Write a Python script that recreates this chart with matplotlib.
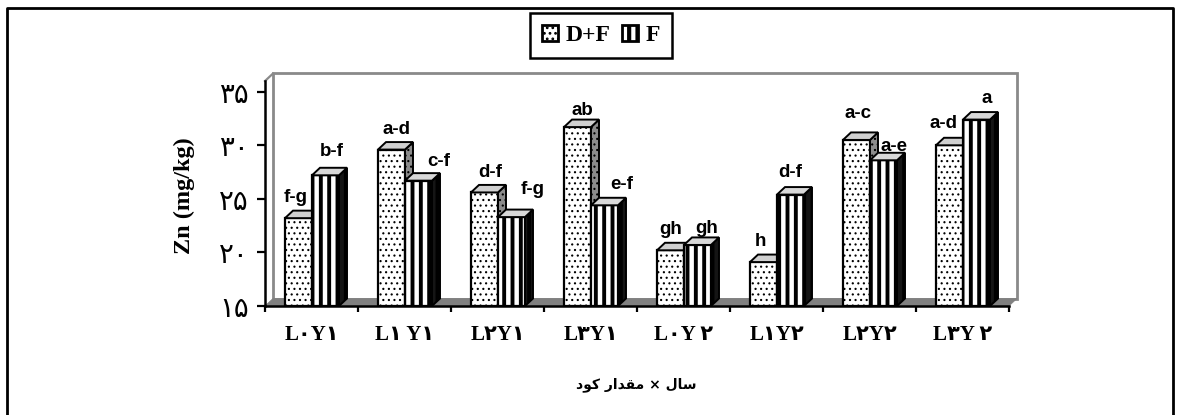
import matplotlib.pyplot as plt
import numpy as np
from matplotlib.patches import Polygon

categories = ['L۰Y۱', 'L۱ Y۱', 'L۲Y۱', 'L۳Y۱', 'L۰Y ۲', 'L۱Y۲', 'L۲Y۲', 'L۳Y ۲']
df_values = [23.2, 29.6, 25.6, 31.7, 20.2, 19.1, 30.5, 30.0]
f_values = [27.2, 26.7, 23.3, 24.4, 20.7, 25.4, 28.6, 32.4]
df_letters = ['f-g', 'a-d', 'd-f', 'ab', 'gh', 'h', 'a-c', 'a-d']
f_letters = ['b-f', 'c-f', 'f-g', 'e-f', 'gh', 'd-f', 'a-e', 'a']
y_ticks = [15, 20, 25, 30, 35]
y_labels = ['۱۵', '۲۰', '۲۵', '۳۰', '۳۵']

# label nudges in pixels from the top of each bar
df_nudge = [(-3, 21), (5, 20), (6, 20), (5, 17), (0, 21), (-3, 21), (2, 26), (-6, 22)]
f_nudge = [(6, 24), (20, 19), (21, 28), (17, 21), (9, 16), (0, 22), (11, 14), (10, 21)]

W, H = 1179, 415
fig = plt.figure(figsize=(W / 100, H / 100), dpi=100)
ax = fig.add_axes([265 / W, 1 - 306 / H, 744 / W, 225 / H])

bar_w = 27 / 93
gap = 20 / 93
dx = 8 / 93
dy = 0.7
x = np.arange(8)

# back wall and floor
ax.add_patch(Polygon([(dx, 15 + dy), (dx, 36 + dy), (8 + dx, 36 + dy), (8 + dx, 15 + dy)],
                     closed=True, fc='white', ec='#8a8a8a', lw=2, zorder=1, clip_on=False))
ax.plot([0, dx], [36, 36 + dy], color='#8a8a8a', lw=1.6, zorder=1, clip_on=False)
ax.add_patch(Polygon([(0, 15), (dx, 15 + dy), (8 + dx, 15 + dy), (8, 15)],
                     closed=True, fc='#808080', ec='#808080', lw=0.5, zorder=2, clip_on=False))


def draw_bar(left, val, hatch, hatch_lw, side_fc, top_fc, z):
    bars = ax.bar(left, val - 15, bar_w, bottom=15, align='edge', fc='white', ec='black',
                  lw=1.6, hatch=hatch, zorder=z)
    bars[0].set_hatch_linewidth(hatch_lw)
    r = left + bar_w
    side = Polygon([(r, 15), (r + dx, 15 + dy), (r + dx, val + dy), (r, val)], closed=True,
                   fc=side_fc, ec='black', lw=1.4, hatch=hatch, zorder=z, clip_on=False)
    side.set_hatch_linewidth(hatch_lw)
    ax.add_patch(side)
    top = Polygon([(left, val), (left + dx, val + dy), (r + dx, val + dy), (r, val)], closed=True,
                  fc=top_fc, ec='black', lw=1.4, zorder=z, clip_on=False)
    ax.add_patch(top)
    return bars


z = 3
for i in x:
    h1 = draw_bar(i + gap, df_values[i], '...', 0.8, '#8c8c8c', '#d0d0d0', z)
    h2 = draw_bar(i + gap + bar_w, f_values[i], '||', 2.8, '#151515', '#d8d8d8', z + 1)
    z += 2
    ax.annotate(df_letters[i], (i + gap + bar_w / 2, df_values[i]), xytext=df_nudge[i],
                textcoords='offset pixels', ha='center', va='center', fontsize=13.5,
                fontweight='bold', family='Liberation Sans', zorder=40)
    ax.annotate(f_letters[i], (i + gap + 1.5 * bar_w, f_values[i]), xytext=f_nudge[i],
                textcoords='offset pixels', ha='center', va='center', fontsize=13.5,
                fontweight='bold', family='Liberation Sans', zorder=40)

ax.set_xlim(0, 8)
ax.set_ylim(15, 36)
ax.spines['top'].set_visible(False)
ax.spines['right'].set_visible(False)
ax.spines['left'].set_linewidth(1.8)
ax.spines['bottom'].set_linewidth(1.8)
ax.spines['left'].set_zorder(30)
ax.spines['bottom'].set_zorder(30)
ax.patch.set_visible(False)

ax.set_yticks(y_ticks)
ax.set_yticklabels(y_labels, fontsize=20, family='DejaVu Sans')
ax.tick_params(axis='y', length=5.5, width=1.6, pad=6)
ax.set_xticks(np.arange(9))
ax.set_xticklabels([])
ax.tick_params(axis='x', which='major', length=4.5, width=1.6)
ax.set_xticks(x + 0.5, minor=True)
ax.set_xticklabels(categories, minor=True, fontsize=15, fontweight='bold',
                   family=['Liberation Serif', 'DejaVu Sans'])
ax.tick_params(axis='x', which='minor', length=0, pad=14)

ax.set_ylabel('Zn (mg/kg)', fontsize=17.5, fontweight='bold', family='Liberation Serif')
ax.yaxis.set_label_coords(-70 / 744, 0.49)

# visual order, shaped glyphs, matplotlib does no bidi
fig.text(636 / W, 1 - 385 / H, '\uFEA9\uFEEE\uFB90 \uFEAD\uFE8D\uFEAA\uFED8\uFEE3 × \uFEDD\uFE8E\uFEB3',
         ha='center', va='center', fontsize=10, fontweight='bold', family='DejaVu Sans')

leg = fig.legend([h1, h2], ['D+F', 'F'], loc='center', bbox_to_anchor=(601 / W, 1 - 35.5 / H), ncol=2,
                 prop={'family': 'Liberation Serif', 'weight': 'bold', 'size': 17},
                 frameon=True, fancybox=False, edgecolor='black', framealpha=1,
                 handlelength=0.68, handleheight=0.68, handletextpad=0.3, columnspacing=0.5,
                 borderpad=0.5, borderaxespad=0)
leg.get_frame().set_linewidth(1.8)
leg.legend_handles[0].set_hatch_linewidth(1.2)
leg.legend_handles[0].set_linewidth(2)
leg.legend_handles[1].set_hatch_linewidth(3)
leg.legend_handles[1].set_linewidth(2)

# page frame, bottom edge is cut off in the source
fig.add_artist(plt.Line2D([7 / W, 7 / W, 1173 / W, 1173 / W], [0, 1 - 8 / H, 1 - 8 / H, 0],
                          color='black', lw=2, transform=fig.transFigure))

plt.savefig('out.png', dpi=100)
